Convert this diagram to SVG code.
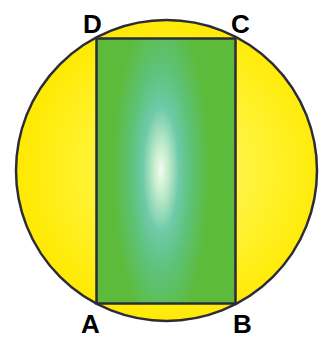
<svg xmlns="http://www.w3.org/2000/svg" width="327" height="339" viewBox="0 0 327 339">
<defs>
<radialGradient id="yel" gradientUnits="userSpaceOnUse" cx="0" cy="0" r="1" gradientTransform="translate(175 170) scale(150 150)">
<stop offset="0" stop-color="#FFF57A"/>
<stop offset="0.6" stop-color="#FFF230"/>
<stop offset="1" stop-color="#FFEA05"/>
</radialGradient>
<radialGradient id="grn" gradientUnits="userSpaceOnUse" cx="0" cy="0" r="1" gradientTransform="translate(161 170) scale(48 165)">
<stop offset="0" stop-color="#F2FCF0"/>
<stop offset="0.15" stop-color="#C4ECCC"/>
<stop offset="0.38" stop-color="#6ECAA8"/>
<stop offset="0.62" stop-color="#5EC27A"/>
<stop offset="1" stop-color="#5CBB3A"/>
</radialGradient>
<style>
.ln{stroke:#2B2B3A;stroke-width:2.5;}
.lbl{font-family:"Liberation Sans",Arial,sans-serif;font-weight:bold;font-size:26px;fill:#000;}
</style>
</defs>
<g id="circle"><circle cx="166.5" cy="170.5" r="150.5" fill="url(#yel)" class="ln"/></g>
<g id="rect"><rect x="96.5" y="38.5" width="139" height="265" fill="url(#grn)" class="ln"/></g>
<g id="labels">
<text class="lbl" x="83" y="33">D</text>
<text class="lbl" x="231" y="33">C</text>
<text class="lbl" x="81" y="333">A</text>
<text class="lbl" x="233" y="333">B</text>
</g>
</svg>
